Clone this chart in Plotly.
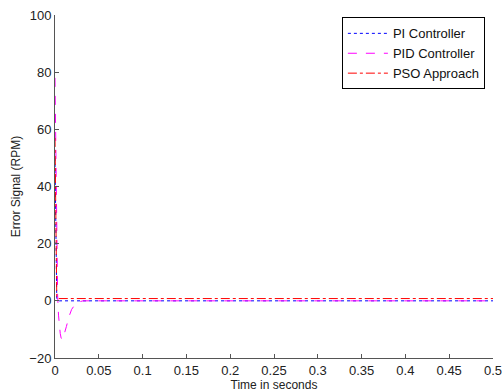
import plotly.graph_objects as go

# Time samples (s) and error signals (RPM)
t_pi = [0, 0.0005, 0.001, 0.0015, 0.002, 0.003, 0.005, 0.5]
e_pi = [50, 30, 12, 4, 1, 0.2, 0, 0]

t_pid = [0, 0.001, 0.002, 0.003, 0.004, 0.005, 0.006, 0.007, 0.008, 0.009,
         0.011, 0.013, 0.016, 0.019, 0.023, 0.027, 0.032, 0.5]
e_pid = [78, 50, 20, 2, -5, -9, -11.5, -13, -13.5, -13.3,
         -11.5, -9, -5.5, -3, -1.2, -0.4, 0, 0]

t_pso = [0, 0.0005, 0.001, 0.0015, 0.002, 0.003, 0.5]
e_pso = [57, 35, 12, 4, 1.5, 0.8, 0.8]

x_ticks = [0, 0.05, 0.1, 0.15, 0.2, 0.25, 0.3, 0.35, 0.4, 0.45, 0.5]
x_tick_labels = ["0", "0.05", "0.1", "0.15", "0.2", "0.25", "0.3", "0.35", "0.4", "0.45", "0.5"]
y_ticks = [-20, 0, 20, 40, 60, 80, 100]

fig = go.Figure()
fig.add_trace(go.Scatter(x=t_pi, y=e_pi, mode="lines", name="PI Controller",
                         line=dict(color="#0000ff", width=1, dash="dot")))
fig.add_trace(go.Scatter(x=t_pid, y=e_pid, mode="lines", name="PID Controller",
                         line=dict(color="#ff00ff", width=1, dash="dash")))
fig.add_trace(go.Scatter(x=t_pso, y=e_pso, mode="lines", name="PSO Approach",
                         line=dict(color="#ff0000", width=1, dash="dashdot")))

font_family = "Liberation Sans, Arial, sans-serif"
fig.update_layout(
    width=502, height=392,
    margin=dict(l=55, r=9, t=15, b=34, autoexpand=False),
    paper_bgcolor="white", plot_bgcolor="white",
    font=dict(family=font_family, size=12, color="#222"),
    showlegend=True,
    legend=dict(x=0.655, y=0.993, xanchor="left", yanchor="top",
                bgcolor="white", bordercolor="black", borderwidth=1,
                font=dict(family=font_family, size=13, color="#111"),
                tracegroupgap=0, itemwidth=40),
)
fig.update_xaxes(range=[0, 0.5], tickvals=x_ticks, ticktext=x_tick_labels,
                 showgrid=False, zeroline=False, showline=True, linecolor="#555",
                 linewidth=1, ticks="inside", ticklen=4, tickcolor="#555",
                 automargin=False, tickfont=dict(size=13), ticklabeloverflow="allow",
                 title=dict(text="Time in seconds", standoff=0, font=dict(size=12)),
                 mirror=False)
fig.update_yaxes(range=[-20, 100], tickvals=y_ticks,
                 showgrid=False, zeroline=False, showline=True, linecolor="#555",
                 linewidth=1, ticks="inside", ticklen=4, tickcolor="#555",
                 automargin=False, tickfont=dict(size=13), ticklabeloverflow="allow",
                 title=dict(text="Error Signal (RPM)", standoff=6, font=dict(size=12)),
                 mirror=False)

fig.write_html("out.html", config={"displayModeBar": False},
               post_script="document.body.style.margin='0px';document.body.style.overflow='hidden';")
